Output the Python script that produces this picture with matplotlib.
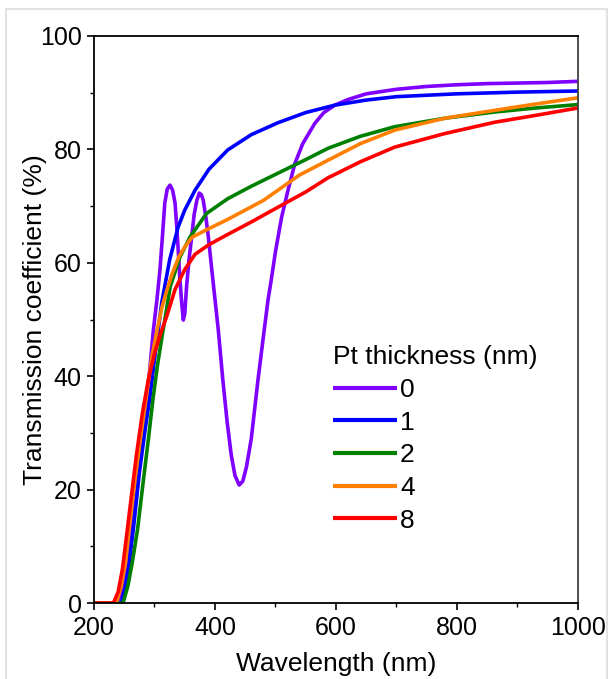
import matplotlib
matplotlib.use("Agg")
import matplotlib.pyplot as plt
import matplotlib.patches as patches
from matplotlib.ticker import MultipleLocator

# Colors for each Pt thickness
COLORS = ["#7F00FF", "#0000FF", "#008000", "#FF8000", "#FF0000"]
LABELS = ["0", "1", "2", "4", "8"]

# 0 nm Pt (interference fringes)
wl_0 = [200, 238, 246, 254, 262, 270, 278, 286, 292, 298, 304, 309, 313, 317, 321,
        325.6, 330, 334, 337, 339.5, 342, 345, 347.6, 350, 353, 357, 361.5, 365.5,
        370, 374, 377.5, 380.6, 385, 389, 393, 397, 405.5, 413, 420, 427, 433, 440,
        446, 452, 460, 471, 480, 487.6, 493, 500, 510, 520, 532, 545, 565, 580, 598,
        620, 650, 700, 750, 800, 850, 900, 950, 1000]
t_0 = [0, 0, 2, 6, 12, 19, 27, 35, 41, 48, 53.5, 58.7, 64.5, 70.5, 73,
       73.7, 72.8, 70.5, 66, 61.7, 57, 52.9, 49.9, 51, 55.8, 60.5, 64.6, 68.5,
       71, 72.3, 72, 71, 68, 64.6, 60.5, 56.5, 48.1, 39.3, 32, 26, 22.5, 20.8,
       21.5, 24, 29, 39.3, 47, 53.4, 57, 62, 68, 72.5, 77.5, 81, 84.6, 86.5, 87.8,
       88.8, 89.8, 90.6, 91.1, 91.4, 91.6, 91.7, 91.8, 92]

# 1 nm Pt
wl_1 = [200, 245, 252, 258, 265, 275, 285, 292, 300, 306, 312, 325, 339, 350, 367,
        390, 421, 460, 504, 550, 598, 650, 700, 800, 900, 1000]
t_1 = [0, 0, 3, 7, 13, 23, 31, 36, 43, 48, 53, 60.5, 66.3, 69.3, 72.8,
       76.5, 79.9, 82.6, 84.7, 86.5, 87.8, 88.7, 89.3, 89.8, 90.1, 90.3]

# 2 nm Pt
wl_2 = [200, 248, 256, 263, 272, 282, 290, 297.5, 305, 314, 326, 342, 359, 386,
        421, 460, 504, 550, 587, 640, 697, 780, 863, 930, 1000]
t_2 = [0, 0, 3, 7, 13, 22, 29, 36, 42, 48, 55.8, 61, 64.6, 68.7,
       71.3, 73.5, 75.8, 78.2, 80.2, 82.3, 84, 85.5, 86.6, 87.3, 87.9]

# 4 nm Pt
wl_4 = [200, 237, 245, 252, 258, 268, 278, 286, 295, 304, 312, 320, 329, 340, 350,
        362, 380, 395, 420, 450, 480, 504, 540, 587, 640, 697, 780, 863, 930, 1000]
t_4 = [0, 0, 3, 7, 13, 22, 30, 36, 43, 48, 52, 55, 58, 61, 62.8,
       64.5, 65.5, 66.3, 67.6, 69.3, 71, 72.8, 75.5, 78.1, 81, 83.4, 85.5, 86.9, 88, 89.1]

# 8 nm Pt
wl_8 = [200, 232, 240, 247, 254, 262, 270, 280, 290, 300, 310, 320, 334, 350, 367,
        390, 421, 460, 504, 550, 587, 640, 697, 780, 863, 930, 1000]
t_8 = [0, 0, 2, 6, 12, 19, 26, 33.5, 39.5, 44, 47.5, 50.5, 55.3, 58.8, 61.5,
       63.2, 65, 67.2, 69.8, 72.5, 75, 77.8, 80.4, 82.8, 84.8, 86, 87.3]

SERIES = [(wl_0, t_0), (wl_1, t_1), (wl_2, t_2), (wl_4, t_4), (wl_8, t_8)]


def setup_plot():
    """Figure sized to the reference, axes placed by pixel fractions."""
    plt.rcParams['font.family'] = ['Liberation Sans', 'DejaVu Sans']
    fig = plt.figure(figsize=(6.12, 6.79), dpi=100)
    ax = fig.add_axes([0.1536, 0.1119, 0.7908, 0.8351])

    # light gray frame around the whole picture
    fig.patches.append(patches.Rectangle(
        (6 / 612, -0.01), 601 / 612, 1 - 9 / 679 + 0.01,
        transform=fig.transFigure, fill=False, edgecolor="#E2E2E2", linewidth=1.5))

    ax.set_xlim(200, 1000)
    ax.set_ylim(0, 100)
    ax.xaxis.set_major_locator(MultipleLocator(200))
    ax.xaxis.set_minor_locator(MultipleLocator(100))
    ax.yaxis.set_major_locator(MultipleLocator(20))
    ax.yaxis.set_minor_locator(MultipleLocator(10))
    ax.tick_params(which='major', direction='out', length=5, width=1.2,
                   labelsize=18, pad=4, top=False, right=False)
    ax.tick_params(which='minor', direction='out', length=3, width=1.0,
                   top=False, right=False)
    for side in ['left', 'bottom', 'top']:
        ax.spines[side].set_linewidth(1.3)
        ax.spines[side].set_color('black')
    ax.spines['right'].set_linewidth(1.3)
    ax.spines['right'].set_color('#404040')

    ax.set_xlabel("Wavelength (nm)", fontsize=19)
    ax.set_ylabel("Transmission coefficient (%)", fontsize=19)
    ax.xaxis.set_label_coords(0.5, -0.086)
    ax.yaxis.set_label_coords(-0.098, 0.5)
    return fig, ax


def main():
    fig, ax = setup_plot()

    for (wl, t), color, label in zip(SERIES, COLORS, LABELS):
        ax.plot(wl, t, color=color, linewidth=2.6, label=label, solid_capstyle='butt')

    leg = ax.legend(title="Pt thickness (nm)", loc='lower left',
                    bbox_to_anchor=(0.494, 0.124), frameon=False, fontsize=19,
                    title_fontsize=19, handlelength=2.42, handletextpad=0.12,
                    labelspacing=0.33, borderpad=0, borderaxespad=0,
                    alignment='left')
    for line in leg.get_lines():
        line.set_linewidth(3)

    fig.savefig("out.png", dpi=100)
    plt.close(fig)


if __name__ == "__main__":
    main()
